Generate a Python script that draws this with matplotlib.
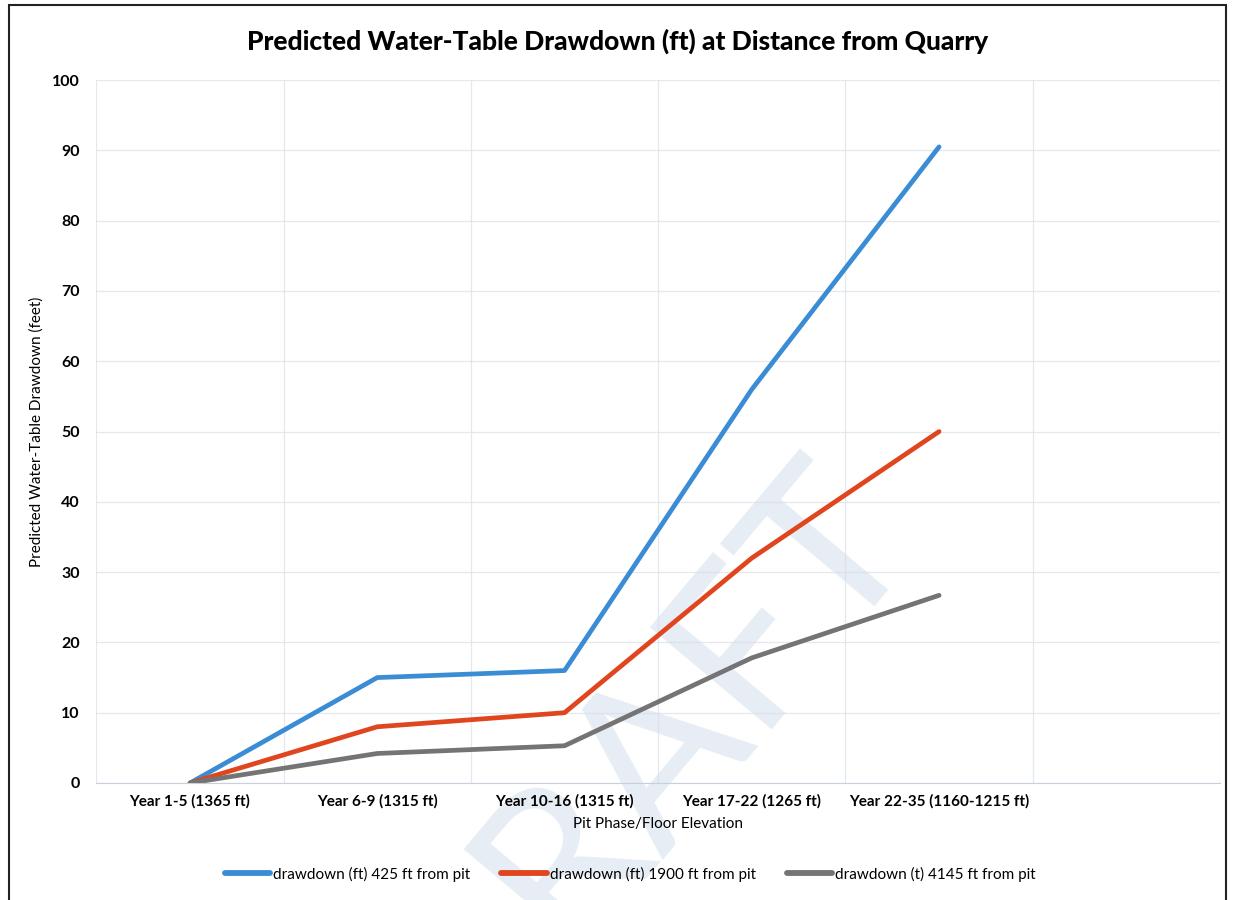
import matplotlib
matplotlib.use('Agg')
import matplotlib.pyplot as plt
from matplotlib.patches import Rectangle
import numpy as np

# data
phases = ['Year 1-5 (1365 ft)', 'Year 6-9 (1315 ft)', 'Year 10-16 (1315 ft)',
          'Year 17-22 (1265 ft)', 'Year 22-35 (1160-1215 ft)', '']
dd_425 = [0, 15, 16, 56, 90.5]
dd_1900 = [0, 8, 10, 32, 50]
dd_4145 = [0, 4.2, 5.3, 17.8, 26.7]
series_labels = ['drawdown (ft) 425 ft from pit',
                 'drawdown (ft) 1900 ft from pit',
                 'drawdown (t) 4145 ft from pit']
colors = ['#3a8dd4', '#e0451e', '#747474']

plt.rcParams['font.family'] = ['Lato', 'DejaVu Sans']

fig = plt.figure(figsize=(12.36, 9), dpi=100)
ax = fig.add_axes([0.078, 0.13, 0.909, 0.781])

# faint DRAFT watermark, drawn before the axes
fig.text(0.517, 0.15, 'DRAFT', fontsize=160, color='#e7edf4', rotation=50,
         ha='center', va='center', fontweight='normal', zorder=-1)
ax.set_facecolor('none')

x = np.arange(len(dd_425))
for vals, lab, col in zip([dd_425, dd_1900, dd_4145], series_labels, colors):
    ax.plot(x, vals, color=col, linewidth=3.4, label=lab, solid_capstyle='round')

ax.set_xlim(-0.5, len(phases) - 0.5)
ax.set_ylim(0, 100)
ax.set_yticks(np.arange(0, 101, 10))
ax.set_xticks(np.arange(len(phases)))
ax.set_xticklabels(phases, fontsize=11, fontweight='bold')
ax.set_xticks(np.arange(len(phases) + 1) - 0.5, minor=True)
ax.tick_params(axis='y', labelsize=11.5, length=0, pad=12)
for t in ax.get_yticklabels():
    t.set_fontweight('bold')
ax.tick_params(axis='x', which='both', length=0, pad=8)

ax.grid(True, axis='y', color='#d5dde8', linewidth=0.9, linestyle=(0, (1, 0.6)))
ax.grid(True, axis='x', which='minor', color='#d5dde8', linewidth=0.9, linestyle=(0, (1, 0.6)))
ax.grid(False, axis='x', which='major')
for side in ['top', 'right', 'left']:
    ax.spines[side].set_visible(False)
ax.spines['bottom'].set_color('#c8d0da')

ax.set_ylabel('Predicted Water-Table Drawdown (feet)', fontsize=11)
ax.yaxis.set_label_coords(-0.047, 0.5)
ax.set_xlabel('Pit Phase/Floor Elevation', fontsize=11, labelpad=6)

fig.suptitle('Predicted Water-Table Drawdown (ft) at Distance from Quarry',
             fontsize=19, fontweight='black', y=0.968)

leg = fig.legend(loc='lower center', bbox_to_anchor=(0.51, 0.005), ncol=3,
                 frameon=False, fontsize=11, handlelength=3.0, columnspacing=2.0,
                 handletextpad=0.2)
for h in leg.get_lines():
    h.set_linewidth(4.2)

# scanned page border
fig.add_artist(Rectangle((0.007, -0.01), 0.985, 1.004, transform=fig.transFigure,
                         fill=False, edgecolor='#222222', linewidth=1.5))

fig.savefig('out.png', dpi=100)
